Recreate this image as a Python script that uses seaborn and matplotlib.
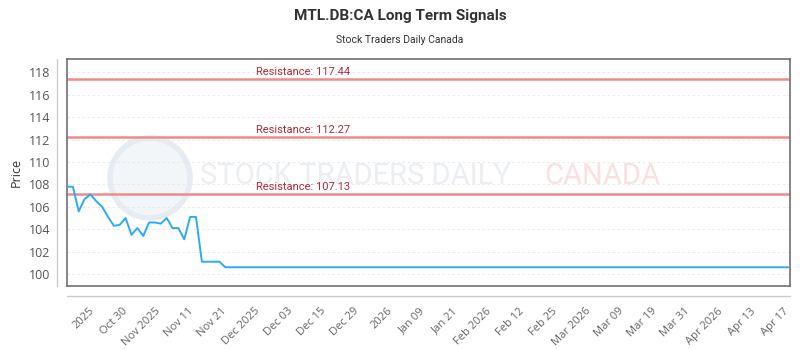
import numpy as np
import pandas as pd
import matplotlib
matplotlib.use("Agg")
import matplotlib.pyplot as plt
import seaborn as sns
from matplotlib.lines import Line2D
from matplotlib.patches import Circle

# ---- data ----
early_prices = [107.8, 107.8, 105.6, 106.7, 107.1, 106.5, 106.0, 105.1, 104.3,
                104.4, 105.0, 103.5, 104.1, 103.4, 104.6, 104.6, 104.5, 105.0,
                104.1, 104.1, 103.1, 105.1, 105.1, 101.1, 101.1, 101.1, 101.1]
flat_price = 100.6
flat_days = 97
prices = early_prices + [flat_price] * flat_days

tick_labels = ["2025", "Oct 30", "Nov 2025", "Nov 11", "Nov 21", "Dec 2025",
               "Dec 03", "Dec 15", "Dec 29", "2026", "Jan 09", "Jan 21",
               "Feb 2026", "Feb 12", "Feb 25", "Mar 2026", "Mar 09", "Mar 19",
               "Mar 31", "Apr 2026", "Apr 13", "Apr 17"]
resistance_levels = [117.44, 112.27, 107.13]
y_ticks = [100, 102, 104, 106, 108, 110, 112, 114, 116, 118]

title = "MTL.DB:CA Long Term Signals"
subtitle = "Stock Traders Daily Canada"

# ---- figure ----
sns.set_style("white")
plt.rcParams["font.family"] = ["Open Sans", "DejaVu Sans"]

W, H = 800, 350
fig = plt.figure(figsize=(8, 3.5), dpi=100)
L, R, T, B = 67, 790, 59, 286
ax = fig.add_axes([L / W, 1 - B / H, (R - L) / W, (B - T) / H])

df = pd.DataFrame({"day": np.arange(len(prices)), "price": prices})

# watermark (faint, behind everything)
wm_circle = Circle((150 / 100, (H - 178) / 100), 0.40,
                   transform=fig.dpi_scale_trans,
                   facecolor="#f3f6f9", edgecolor="#e6ecf2", lw=4, zorder=0)
ax.add_artist(wm_circle)
wm_circle.set_transform(fig.dpi_scale_trans)
wm_y = 1 - (176 - T) / (B - T)
ax.text((200 - L) / (R - L), wm_y, "STOCK TRADERS DAILY",
        transform=ax.transAxes, fontsize=21, color="#ebeef3", family="Roboto",
        ha="left", va="center", zorder=0)
ax.text((544 - L) / (R - L), wm_y, "CANADA",
        transform=ax.transAxes, fontsize=21, color="#fae0e0", family="Roboto",
        ha="left", va="center", zorder=0)

for r in resistance_levels:
    ax.axhline(r, color="#ee8b8b", lw=1.8, zorder=2)
    ax.text(32.3, r + 0.33, f"Resistance: {r:.2f}", color="#b02a3a",
            fontsize=8, family="Roboto", ha="left", va="baseline", zorder=3)

sns.lineplot(data=df, x="day", y="price", color="#2ea9f7", lw=1.4, ax=ax,
             zorder=4)

ax.set_xlim(0, 123.3)
ax.set_ylim(98.93, 119.2)
ax.set_yticks(y_ticks)
ax.set_yticklabels([str(v) for v in y_ticks])
ax.set_xticks(np.linspace(4.4, 122.9, len(tick_labels)))
ax.set_xticklabels(tick_labels, rotation=45, ha="right", va="center",
                   rotation_mode="anchor")
ax.tick_params(axis="y", length=0, pad=12, labelsize=9, labelcolor="#555555")
ax.tick_params(axis="x", length=0, pad=17, labelsize=8, labelcolor="#666666")
ax.set_xlabel("")
ax.set_ylabel("")
ax.yaxis.grid(True, linestyle=(0, (3, 3)), color="#e6e6e6", lw=0.6)
ax.xaxis.grid(False)
ax.set_axisbelow(True)
for s in ax.spines.values():
    s.set_color("#707070")
    s.set_linewidth(1.2)

# detached axis lines
fig.add_artist(Line2D([57 / W, 57 / W], [1 - T / H, 1 - B / H],
                      color="#cccccc", lw=1.0))
fig.add_artist(Line2D([L / W, R / W], [1 - 296 / H, 1 - 296 / H],
                      color="#cccccc", lw=1.0))

fig.text(16 / W, 1 - 172 / H, "Price", rotation=90, ha="center", va="center",
         fontsize=9, color="#333333")
fig.text(0.5, 1 - 16 / H, title, ha="center", va="center", fontsize=11,
         fontweight="bold", color="#333333", family="Roboto")
fig.text(0.5, 1 - 40 / H, subtitle, ha="center", va="center", fontsize=7.5,
         color="#333333", family="Roboto")

fig.savefig("out.png", dpi=100, facecolor="white")
